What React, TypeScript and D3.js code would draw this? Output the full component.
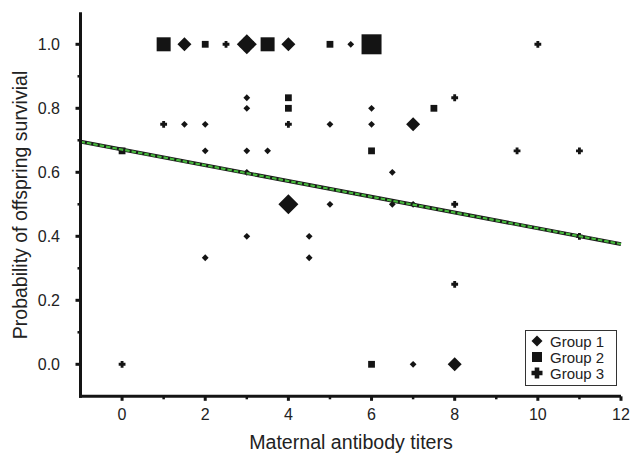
import React from "react";
import * as d3 from "d3";

// Group 1 (diamonds): x, y, size level
const g1X = [1.5, 3, 4, 5.5, 3, 3, 1.5, 2, 5, 6, 6, 7, 2, 3, 3.5, 3, 6.5, 4, 5, 6.5, 7, 3, 4.5, 2, 4.5, 7, 8];
const g1Y = [1, 1, 1, 1, 0.833, 0.8, 0.75, 0.75, 0.75, 0.8, 0.75, 0.75, 0.667, 0.667, 0.667, 0.6, 0.6, 0.5, 0.5, 0.5, 0.5, 0.4, 0.4, 0.333, 0.333, 0, 0];
const g1N = [2, 3, 2, 1, 1, 1, 1, 1, 1, 1, 1, 2, 1, 1, 1, 1, 1, 3, 1, 1, 1, 1, 1, 1, 1, 1, 2];

// Group 2 (squares)
const g2X = [1, 2, 3.5, 5, 6, 4, 4, 7.5, 0, 6, 6];
const g2Y = [1, 1, 1, 1, 1, 0.833, 0.8, 0.8, 0.667, 0.667, 0];
const g2N = [2, 1, 2, 1, 3, 1, 1, 1, 1, 1, 1];

// Group 3 (crosses)
const g3X = [2.5, 3, 10, 8, 1, 4, 9.5, 11, 8, 11, 8, 0];
const g3Y = [1, 1, 1, 0.833, 0.75, 0.75, 0.667, 0.667, 0.5, 0.4, 0.25, 0];
const g3N = [1, 2, 1, 1, 1, 1, 1, 1, 1, 1, 1, 1];

// Fitted regression line
const fitIntercept = 0.671;
const fitSlope = -0.0246;

const xTicks = [0, 2, 4, 6, 8, 10, 12];
const xMinorTicks = [1, 3, 5, 7, 9, 11];
const yTicks = [0, 0.2, 0.4, 0.6, 0.8, 1.0];
const yMinorTicks = [0.1, 0.3, 0.5, 0.7, 0.9];
const groupLabels = ["Group 1", "Group 2", "Group 3"];

const FONT = "'Liberation Sans', Arial, Helvetica, sans-serif";
const INK = "#141414";

const x = d3.scaleLinear().domain([-1, 12]).range([80.5, 621]);
const y = d3.scaleLinear().domain([-0.1, 1.1]).range([396.3, 12.3]);

const sizeR = [0, 3.4, 7, 10];

function diamond(cx: number, cy: number, r: number) {
  return `M${cx},${cy - r}L${cx + r},${cy}L${cx},${cy + r}L${cx - r},${cy}Z`;
}
function square(cx: number, cy: number, r: number) {
  return `M${cx - r},${cy - r}h${2 * r}v${2 * r}h${-2 * r}Z`;
}
function cross(cx: number, cy: number, r: number) {
  const t = r * 0.42;
  return `M${cx - t},${cy - r}h${2 * t}v${r - t}h${r - t}v${2 * t}h${-(r - t)}v${r - t}h${-2 * t}v${-(r - t)}h${-(r - t)}v${-2 * t}h${r - t}Z`;
}

export default function App() {
  const fitLine = d3
    .line<number>()
    .x((d) => x(d))
    .y((d) => y(fitIntercept + fitSlope * d))([-1, 12]);

  const marks: { d: string; key: string }[] = [];
  g1X.forEach((v, i) => marks.push({ key: "a" + i, d: diamond(x(v), y(g1Y[i]), sizeR[g1N[i]] * 1.0) }));
  g2X.forEach((v, i) => marks.push({ key: "b" + i, d: square(x(v), y(g2Y[i]), sizeR[g2N[i]]) }));
  g3X.forEach((v, i) => marks.push({ key: "c" + i, d: cross(x(v), y(g3Y[i]), sizeR[g3N[i]]) }));

  const shapes = [diamond, square, cross];

  return (
    <svg
      width={630}
      height={456}
      style={{ position: "absolute", left: 0, top: 0, background: "#fff" }}
      fontFamily={FONT}
    >
      {/* markers */}
      {marks.map((m) => (
        <path key={m.key} d={m.d} fill={INK} />
      ))}

      {/* fit line */}
      <path d={fitLine || ""} stroke="#1a1a1a" strokeWidth={3.8} fill="none" />
      <path d={fitLine || ""} stroke="#46b83c" strokeWidth={2.2} strokeDasharray="4.5,2" fill="none" />

      {/* axes */}
      <line x1={x(-1)} x2={x(-1)} y1={y(1.1)} y2={y(-0.1) + 1.5} stroke={INK} strokeWidth={3} />
      <line x1={x(-1) - 1.5} x2={x(12)} y1={y(-0.1)} y2={y(-0.1)} stroke={INK} strokeWidth={3} />

      {yTicks.map((t) => (
        <g key={"yt" + t}>
          <line x1={x(-1) - 5} x2={x(-1)} y1={y(t)} y2={y(t)} stroke={INK} strokeWidth={3} />
          <text x={60} y={y(t)} dy="0.36em" textAnchor="end" fontSize={16} fill="#222">
            {t.toFixed(1)}
          </text>
        </g>
      ))}
      {yMinorTicks.map((t) => (
        <line key={"ym" + t} x1={x(-1) - 3} x2={x(-1)} y1={y(t)} y2={y(t)} stroke={INK} strokeWidth={2.5} />
      ))}
      {xTicks.map((t) => (
        <g key={"xt" + t}>
          <line x1={x(t)} x2={x(t)} y1={y(-0.1)} y2={y(-0.1) + 4.5} stroke={INK} strokeWidth={3} />
          <text x={x(t)} y={420} textAnchor="middle" fontSize={16} fill="#222">
            {t}
          </text>
        </g>
      ))}
      {xMinorTicks.map((t) => (
        <line key={"xm" + t} x1={x(t)} x2={x(t)} y1={y(-0.1)} y2={y(-0.1) + 3} stroke={INK} strokeWidth={2.5} />
      ))}

      {/* axis titles */}
      <text x={351} y={449} textAnchor="middle" fontSize={19.6} fill="#222">
        Maternal antibody titers
      </text>
      <text
        transform={`translate(26.5,205) rotate(-90)`}
        textAnchor="middle"
        fontSize={19.5}
        fill="#222"
      >
        Probability of offspring survivial
      </text>

      {/* legend */}
      <rect x={525.5} y={330.5} width={91} height={55} fill="#fff" stroke="#333" strokeWidth={1} />
      {groupLabels.map((g, i) => (
        <g key={g}>
          <path d={shapes[i](537, 341 + i * 16, i === 1 ? 5 : 5.5)} fill={INK} />
          <text x={550} y={346.5 + i * 16} fontSize={15} fill="#222">
            {g}
          </text>
        </g>
      ))}
    </svg>
  );
}
